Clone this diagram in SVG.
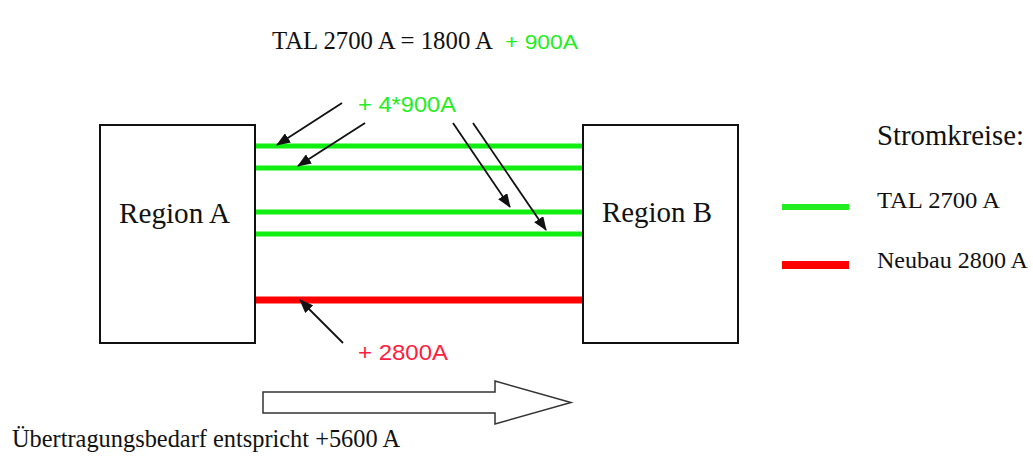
<svg xmlns="http://www.w3.org/2000/svg" width="1033" height="459" viewBox="0 0 1033 459">
<style>
.serif{font-family:"Liberation Serif","Times New Roman",serif;fill:#111}
.sans{font-family:"Liberation Sans",Arial,sans-serif}
.box{fill:#fff;stroke:#111;stroke-width:2}
.g{stroke:#11ee11;stroke-width:5}
.r{stroke:#ff0000;stroke-width:7}
.ptr{stroke:#111;stroke-width:1.8;fill:none;marker-end:url(#ah)}
</style>
<defs>
<marker id="ah" viewBox="0 0 14 11" refX="13" refY="5.5" markerWidth="14" markerHeight="11" markerUnits="userSpaceOnUse" orient="auto">
<path d="M0,0 L14,5.5 L0,11 Z" fill="#111"/>
</marker>
</defs>
<rect width="1033" height="459" fill="#fff"/>
<g id="title">
<text class="serif" x="272" y="49" font-size="24.5" textLength="221" lengthAdjust="spacingAndGlyphs">TAL 2700 A = 1800 A</text>
<text class="sans" x="505" y="49" font-size="21" fill="#22ee22" textLength="73" lengthAdjust="spacingAndGlyphs">+ 900A</text>
</g>
<g id="regionA">
<rect class="box" x="100" y="125" width="155" height="218"/>
<text class="serif" x="119" y="223" font-size="29" textLength="111" lengthAdjust="spacingAndGlyphs">Region A</text>
</g>
<g id="regionB">
<rect class="box" x="583" y="125" width="155" height="218"/>
<text class="serif" x="602" y="222" font-size="29" textLength="110" lengthAdjust="spacingAndGlyphs">Region B</text>
</g>
<g id="circuits">
<line class="g" x1="256" y1="146" x2="582" y2="146"/>
<line class="g" x1="256" y1="168" x2="582" y2="168"/>
<line class="g" x1="256" y1="212" x2="582" y2="212"/>
<line class="g" x1="256" y1="234" x2="582" y2="234"/>
<line class="r" x1="256" y1="300" x2="582" y2="300"/>
</g>
<g id="labels">
<text class="sans" x="358" y="112" font-size="21.5" fill="#22ee22" textLength="98" lengthAdjust="spacingAndGlyphs">+ 4*900A</text>
<text class="sans" x="358" y="360" font-size="22" fill="#ff2040" textLength="90" lengthAdjust="spacingAndGlyphs">+ 2800A</text>
</g>
<g id="connectors">
<line class="ptr" x1="342" y1="103" x2="277" y2="145"/>
<line class="ptr" x1="365" y1="123" x2="298" y2="166"/>
<line class="ptr" x1="453" y1="123" x2="510" y2="207"/>
<line class="ptr" x1="473" y1="123" x2="546" y2="230"/>
<line class="ptr" x1="343" y1="343" x2="300" y2="300"/>
</g>
<g id="flow">
<path d="M263,392 L495,392 L495,381 L571,402.5 L495,424 L495,413 L263,413 Z" fill="#fff" stroke="#333" stroke-width="1.5"/>
<text class="serif" x="12" y="447" font-size="24.3" textLength="388" lengthAdjust="spacingAndGlyphs">Übertragungsbedarf entspricht +5600 A</text>
</g>
<g id="legend">
<text class="serif" x="877" y="145" font-size="28.8" textLength="147" lengthAdjust="spacingAndGlyphs">Stromkreise:</text>
<line stroke="#22ee22" stroke-width="6" x1="782" y1="207" x2="849" y2="207"/>
<text class="serif" x="877" y="208" font-size="24" textLength="123" lengthAdjust="spacingAndGlyphs">TAL 2700 A</text>
<line stroke="#ff0000" stroke-width="8" x1="782" y1="265" x2="849" y2="265"/>
<text class="serif" x="877" y="268" font-size="24" textLength="151" lengthAdjust="spacingAndGlyphs">Neubau 2800 A</text>
</g>
</svg>
